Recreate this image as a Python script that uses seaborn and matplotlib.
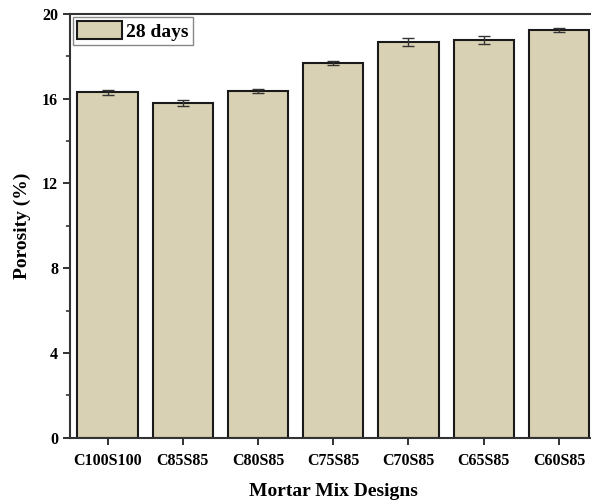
import matplotlib
matplotlib.use("Agg")
import matplotlib.pyplot as plt
from matplotlib.ticker import MultipleLocator
import pandas as pd
import seaborn as sns

# porosity after 28 days
mixes = ["C100S100", "C85S85", "C80S85", "C75S85", "C70S85", "C65S85", "C60S85"]
porosity = [16.31, 15.79, 16.37, 17.69, 18.67, 18.78, 19.25]
porosity_err = [0.12, 0.14, 0.08, 0.08, 0.19, 0.18, 0.10]

BAR_COLOR = "#D9D1B3"

sns.set_style("ticks")
plt.rcParams["font.family"] = ["Liberation Serif", "DejaVu Serif"]
plt.rcParams["font.weight"] = "bold"
plt.rcParams["text.color"] = "black"
plt.rcParams["axes.labelcolor"] = "black"

df = pd.DataFrame({"mix": mixes, "porosity": porosity})

fig = plt.figure(figsize=(5.91, 5.04), dpi=100)
ax = fig.add_axes([0.1184, 0.1315, 0.891, 0.8407])

sns.barplot(data=df, x="mix", y="porosity", color=BAR_COLOR, saturation=1,
            edgecolor="#1a1a1a", linewidth=1.5, width=0.8, errorbar=None,
            label="28 days", ax=ax)
ax.errorbar(range(len(mixes)), porosity, yerr=porosity_err, fmt="none",
            ecolor="#333333", elinewidth=1.0, capsize=4, capthick=1.0)

ax.set_xlim(-0.5, 6.5)
ax.set_ylim(0, 20)
ax.yaxis.set_major_locator(MultipleLocator(4))
ax.yaxis.set_minor_locator(MultipleLocator(2))

ax.set_xlabel("Mortar Mix Designs", fontsize=14, fontweight="bold",
              color="black", labelpad=10)
ax.set_ylabel("Porosity (%)", fontsize=14, fontweight="bold",
              color="black", labelpad=8)
ax.tick_params(axis="both", which="major", direction="out", length=5, width=1.3,
               labelsize=11.5, colors="#222222", labelcolor="black")
ax.tick_params(axis="y", which="minor", direction="out", length=3, width=1.1,
               colors="#222222")
ax.tick_params(axis="x", pad=6)
for lab in ax.get_xticklabels() + ax.get_yticklabels():
    lab.set_fontweight("bold")

for side in ["left", "bottom", "top", "right"]:
    ax.spines[side].set_visible(True)
    ax.spines[side].set_linewidth(1.5)
    ax.spines[side].set_color("#333333")

leg = ax.legend(loc="upper left", handlelength=2.3, handleheight=1.1,
                borderaxespad=0.15, borderpad=0.2, handletextpad=0.25,
                fancybox=False, framealpha=1, edgecolor="#888888",
                prop={"weight": "bold", "size": 14})
leg.get_frame().set_linewidth(1.0)
for t in leg.get_texts():
    t.set_color("black")

fig.savefig("out.png", dpi=100)
